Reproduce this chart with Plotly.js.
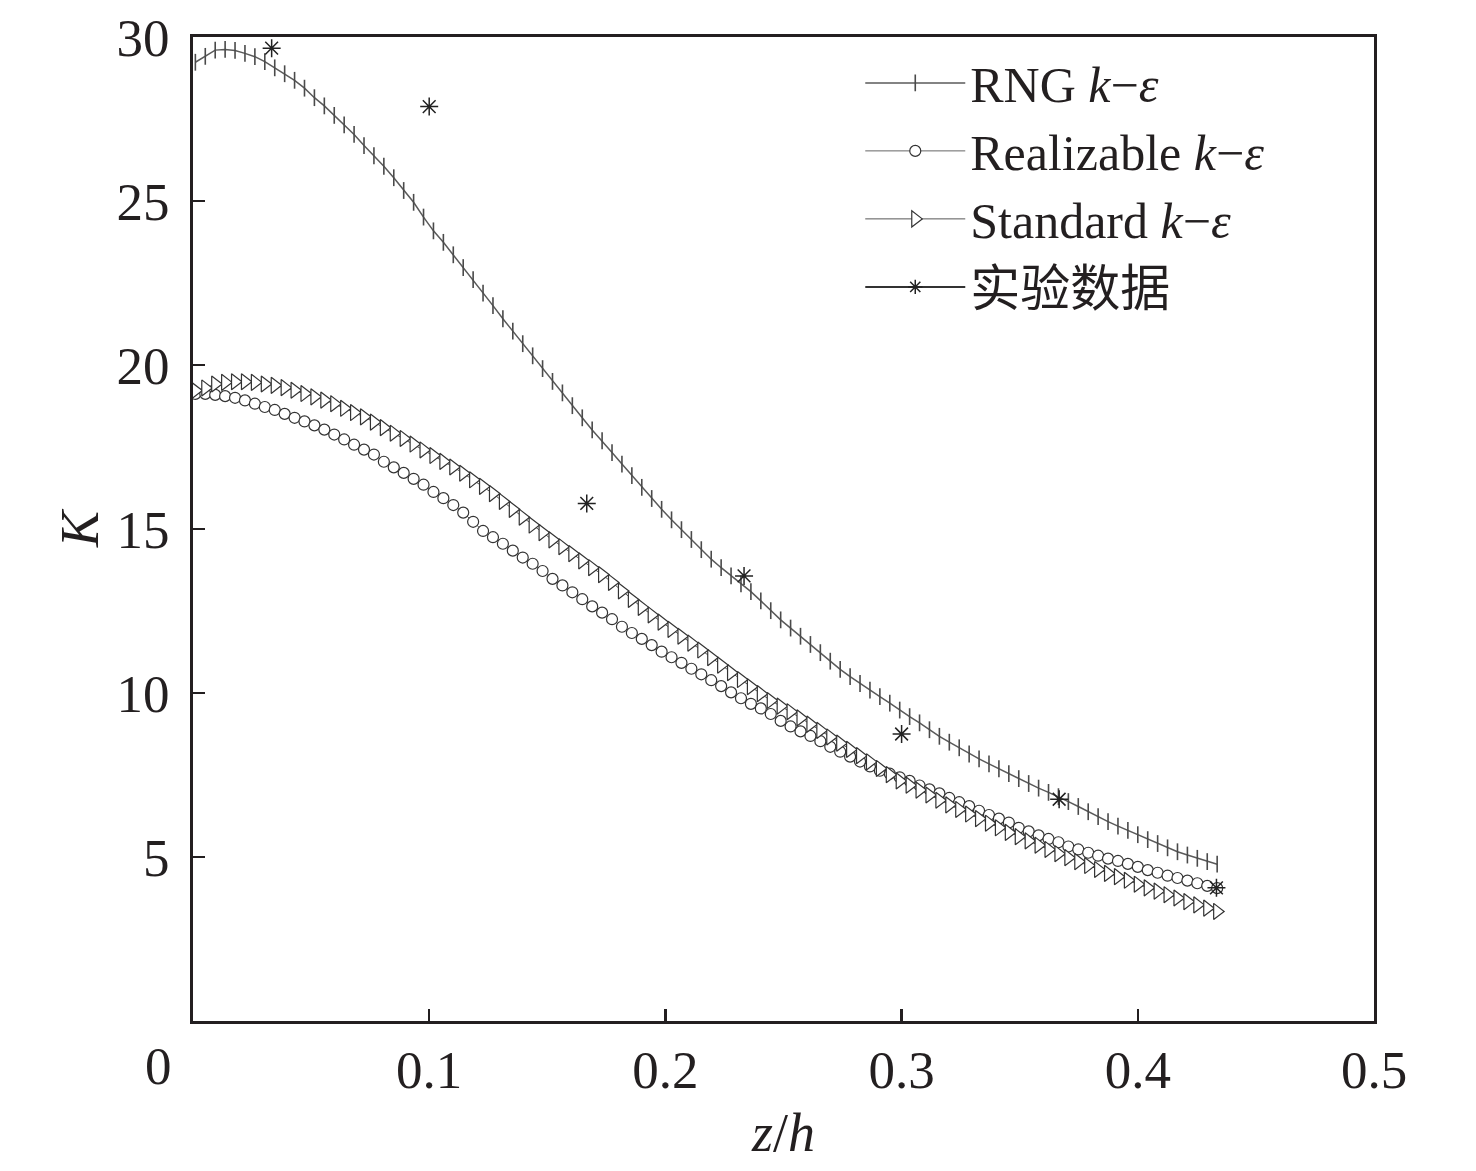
<!DOCTYPE html>
<html><head><meta charset="utf-8">
<script src="https://cdn.plot.ly/plotly-3.0.1.min.js"></script>
<style>html,body{margin:0;padding:0;background:#fff}</style>
</head><body><div id="chart" style="width:1476px;height:1171px"></div>
<script>
// z/h sample positions (shared by the three simulated series)
const zh = [
 0.0010,0.0052,0.0094,0.0136,0.0178,0.0220,0.0262,0.0304,0.0346,0.0388,
 0.0430,0.0472,0.0514,0.0556,0.0598,0.0640,0.0682,0.0724,0.0766,0.0808,
 0.0850,0.0892,0.0934,0.0976,0.1018,0.1060,0.1102,0.1144,0.1186,0.1228,
 0.1270,0.1312,0.1354,0.1396,0.1438,0.1480,0.1522,0.1564,0.1606,0.1648,
 0.1690,0.1732,0.1774,0.1816,0.1858,0.1900,0.1942,0.1984,0.2026,0.2068,
 0.2110,0.2152,0.2194,0.2236,0.2278,0.2320,0.2362,0.2404,0.2446,0.2488,
 0.2530,0.2572,0.2614,0.2656,0.2698,0.2740,0.2782,0.2824,0.2866,0.2908,
 0.2950,0.2992,0.3034,0.3076,0.3118,0.3160,0.3202,0.3244,0.3286,0.3328,
 0.3370,0.3412,0.3454,0.3496,0.3538,0.3580,0.3622,0.3664,0.3706,0.3748,
 0.3790,0.3832,0.3874,0.3916,0.3958,0.4000,0.4042,0.4084,0.4126,0.4168,
 0.4210,0.4252,0.4294,0.4336
];
const kRNG = [
 29.23,29.41,29.60,29.62,29.59,29.50,29.40,29.25,29.06,28.88,
 28.68,28.44,28.15,27.90,27.61,27.32,27.03,26.69,26.38,26.06,
 25.71,25.32,24.96,24.51,24.09,23.74,23.36,22.97,22.60,22.19,
 21.81,21.41,21.03,20.65,20.28,19.89,19.50,19.15,18.76,18.39,
 18.02,17.69,17.33,16.98,16.63,16.27,15.93,15.60,15.28,14.98,
 14.68,14.37,14.08,13.82,13.57,13.33,13.09,12.81,12.51,12.23,
 11.98,11.73,11.48,11.23,10.97,10.72,10.50,10.29,10.09,9.89,
 9.69,9.48,9.28,9.09,8.88,8.68,8.50,8.33,8.14,7.99,
 7.84,7.69,7.54,7.39,7.24,7.10,6.97,6.84,6.69,6.54,
 6.38,6.23,6.08,5.94,5.81,5.68,5.53,5.41,5.28,5.16,
 5.06,4.96,4.86,4.78
];
const kRealizable = [
 19.12,19.12,19.09,19.05,19.00,18.92,18.82,18.72,18.63,18.51,
 18.39,18.28,18.16,18.03,17.88,17.73,17.57,17.42,17.27,17.05,
 16.88,16.71,16.53,16.35,16.13,15.94,15.73,15.50,15.22,14.94,
 14.75,14.55,14.34,14.13,13.94,13.72,13.48,13.28,13.07,12.86,
 12.64,12.45,12.25,12.02,11.83,11.65,11.46,11.26,11.09,10.92,
 10.74,10.57,10.39,10.21,10.02,9.84,9.67,9.53,9.36,9.15,
 8.98,8.83,8.69,8.53,8.36,8.21,8.06,7.91,7.76,7.63,
 7.54,7.43,7.32,7.18,7.06,6.94,6.80,6.67,6.55,6.41,
 6.28,6.17,6.05,5.89,5.78,5.66,5.55,5.45,5.32,5.23,
 5.13,5.04,4.95,4.88,4.79,4.70,4.60,4.52,4.43,4.36,
 4.28,4.20,4.12,4.05
];
const kStandard = [
 19.22,19.30,19.42,19.47,19.49,19.49,19.47,19.42,19.38,19.31,
 19.23,19.13,19.03,18.93,18.82,18.68,18.55,18.42,18.26,18.09,
 17.92,17.76,17.59,17.41,17.24,17.06,16.89,16.70,16.50,16.30,
 16.08,15.84,15.60,15.36,15.12,14.89,14.67,14.46,14.25,14.03,
 13.82,13.61,13.37,13.11,12.85,12.61,12.38,12.16,11.94,11.73,
 11.52,11.31,11.08,10.85,10.62,10.41,10.19,9.98,9.77,9.60,
 9.43,9.24,9.05,8.86,8.66,8.47,8.28,8.09,7.90,7.70,
 7.51,7.32,7.19,7.04,6.89,6.73,6.59,6.45,6.31,6.17,
 6.03,5.89,5.75,5.62,5.49,5.36,5.23,5.10,4.98,4.86,
 4.74,4.62,4.50,4.40,4.29,4.17,4.06,3.96,3.85,3.75,
 3.64,3.54,3.44,3.34
];
// experimental data
const zhExp = [0.0333,0.1000,0.1667,0.2333,0.3000,0.3667,0.4333];
const kExp  = [29.66,27.88,15.78,13.57,8.75,6.76,4.06];

const seriesNames = [
 'RNG <i>k</i>−<i>ε</i>',
 'Realizable <i>k</i>−<i>ε</i>',
 'Standard <i>k</i>−<i>ε</i>',
 '实验数据'
];
const xTickVals = [0.1,0.2,0.3,0.4,0.5];
const xTickText = ['0.1','0.2','0.3','0.4','0.5'];
const yTickVals = [5,10,15,20,25,30];
const yTickText = ['5','10','15','20','25','30'];

const FONT = '"Liberation Serif", "Times New Roman", "Noto Sans CJK SC", serif';
const INK = '#231f20';

const traces = [
 {type:'scatter', mode:'lines+markers', x: zh, y: kRNG, name: seriesNames[0],
  line:{color:'#5a5a5a', width:1.5},
  marker:{symbol:'line-ns-open', size:12, color:'#4a4a4a', line:{color:'#4a4a4a', width:1.6}}},
 {type:'scatter', mode:'lines+markers', x: zh, y: kRealizable, name: seriesNames[1],
  line:{color:'#666', width:1},
  marker:{symbol:'circle', size:11, color:'#fff', line:{color:'#333', width:1.2}}},
 {type:'scatter', mode:'lines+markers', x: zh, y: kStandard, name: seriesNames[2],
  line:{color:'#555', width:1},
  marker:{symbol:'triangle-right', size:14, color:'#fff', line:{color:'#333', width:1.2}}},
 {type:'scatter', mode:'markers', x: zhExp, y: kExp, name: seriesNames[3], showlegend:false,
  marker:{symbol:'asterisk-open', size:15, color:'#222', line:{color:'#222', width:1.5}}},
 {type:'scatter', mode:'lines+markers', x:[null], y:[null], name: seriesNames[3],
  line:{color:'#333', width:2},
  marker:{symbol:'asterisk-open', size:12, color:'#222', line:{color:'#222', width:1.5}}}
];

const axisCommon = {
 showgrid:false, zeroline:false, showline:true, mirror:true,
 linecolor:INK, linewidth:3, ticks:'inside', ticklen:12, tickwidth:2.5, tickcolor:INK,
 tickfont:{family:FONT, size:53, color:INK}
};

const layout = {
 width:1476, height:1171,
 margin:{l:193, r:102, t:37, b:150, pad:0},
 paper_bgcolor:'#fff', plot_bgcolor:'#fff',
 font:{family:FONT, color:INK},
 showlegend:true,
 legend:{x:0.565, y:0.993, xanchor:'left', yanchor:'top', bgcolor:'rgba(0,0,0,0)',
   font:{family:FONT, size:50, color:INK}, itemwidth:100, tracegroupgap:0},
 xaxis:Object.assign({}, axisCommon, {
   range:[0,0.5], tickmode:'array', tickvals:xTickVals, ticktext:xTickText,
   title:{text:'<i>z</i>/<i>h</i>', font:{family:FONT, size:54, color:INK}, standoff:16}
 }),
 yaxis:Object.assign({}, axisCommon, {
   range:[0,30], tickmode:'array', tickvals:yTickVals, ticktext:yTickText,
   ticklabelstandoff:10,
   title:{text:'<i>K</i>', font:{family:FONT, size:54, color:INK}, standoff:1}
 }),
 annotations:[
   {xref:'paper', yref:'paper', x:-0.0296, y:-0.0460, text:'0', showarrow:false,
    xanchor:'center', yanchor:'middle', font:{family:FONT, size:53, color:INK}}
 ]
};

Plotly.newPlot('chart', traces, layout, {displayModeBar:false, staticPlot:true});
</script>
</body></html>
